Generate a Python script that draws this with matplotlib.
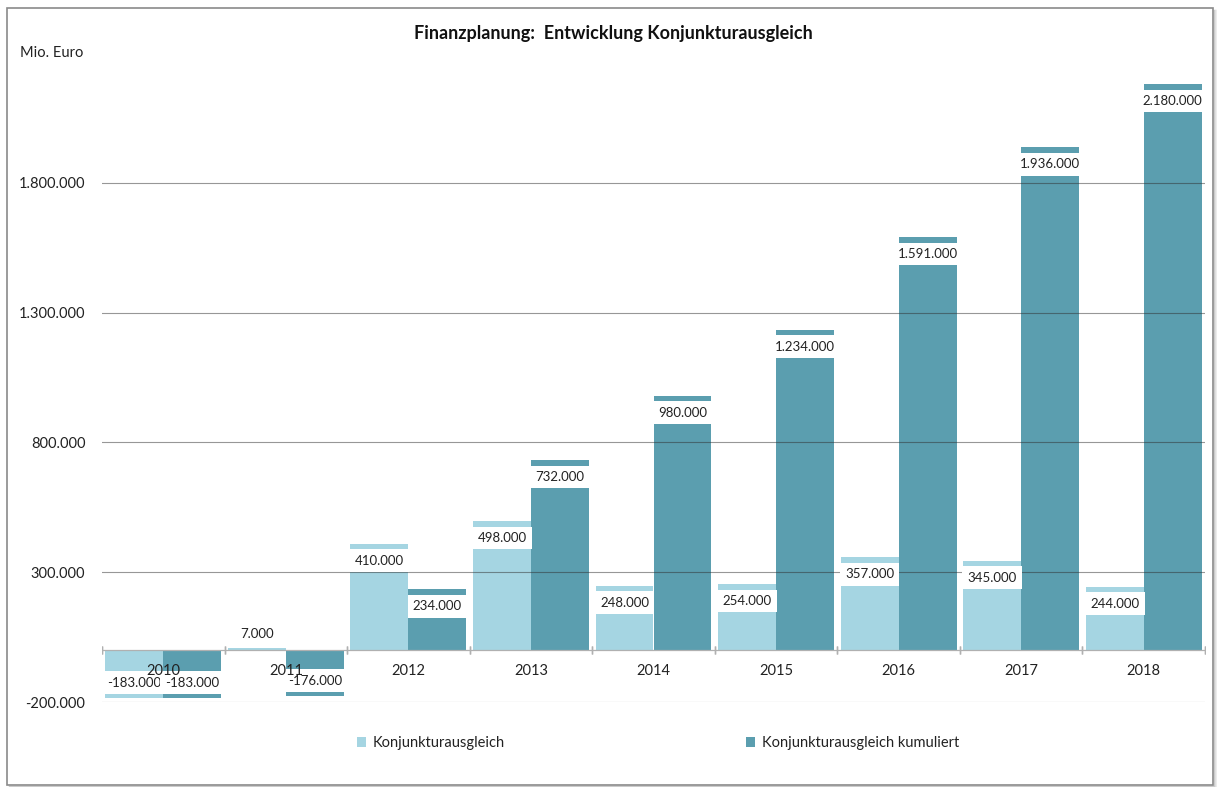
import matplotlib
matplotlib.use("Agg")
import matplotlib.pyplot as plt
from matplotlib.patches import Rectangle
from matplotlib.lines import Line2D
import numpy as np

plt.rcParams['font.family'] = ['Lato', 'DejaVu Sans']

years = ['2010', '2011', '2012', '2013', '2014', '2015', '2016', '2017', '2018']
ausgleich = [-183000, 7000, 410000, 498000, 248000, 254000, 357000, 345000, 244000]
kumuliert = [-183000, -176000, 234000, 732000, 980000, 1234000, 1591000, 1936000, 2180000]
series_names = ['Konjunkturausgleich', 'Konjunkturausgleich kumuliert']
yticks = [-200000, 300000, 800000, 1300000, 1800000]

c_light = '#A5D5E2'
c_dark = '#5B9EAF'

W, H = 1217, 787
fig = plt.figure(figsize=(W / 100, H / 100), dpi=100)
ax = fig.add_axes([102 / W, (H - 702) / H, 1103 / W, 649 / H])

def fmt(v):
    s = f"{abs(v):,}".replace(',', '.')
    return ('-' if v < 0 else '') + s

x = np.arange(len(years))
bw = 0.473
b1 = ax.bar(x - bw / 2, ausgleich, bw, color=c_light, zorder=2, linewidth=0)
b2 = ax.bar(x + bw / 2, kumuliert, bw, color=c_dark, zorder=2, linewidth=0)

ax.set_xlim(-0.5, len(years) - 0.5)
ax.set_ylim(-200000, 2300000)
ax.set_yticks(yticks)
ax.set_yticklabels([fmt(v) for v in yticks], fontsize=10.5, color='#222222')
ax.tick_params(axis='y', length=0, pad=12)
ax.set_xticks([])
for sp in ax.spines.values():
    sp.set_visible(False)
for v in yticks:
    ax.axhline(v, color='#303030', alpha=0.5, lw=0.8, zorder=3)
ax.axhline(0, color='#b0b0b0', lw=0.9, zorder=3)
for b in np.arange(len(years) + 1) - 0.5:
    ax.plot([b, b], [0, 0], marker='|', markersize=6, color='#b0b0b0', zorder=3)

for xi, y in zip(x, years):
    ax.annotate(y, (xi, 0), xytext=(0, -21), textcoords='offset pixels',
                ha='center', va='center', fontsize=10.5, color='#222222', zorder=6)

def label(xc, v):
    if abs(v) < 30000:
        ax.annotate(fmt(v), (xc, v), xytext=(0, 14), textcoords='offset pixels',
                    ha='center', va='center', fontsize=9.5, color='#222222', zorder=5)
        return
    off = -17 if v > 0 else 15
    ax.annotate(fmt(v), (xc, v), xytext=(0, off), textcoords='offset pixels',
                ha='center', va='center', fontsize=9.5, color='#222222', zorder=5,
                bbox=dict(boxstyle='square,pad=0.4', fc='white', ec='none'))

for xi, v in zip(x, ausgleich):
    label(xi - bw / 2, v)
for xi, v in zip(x, kumuliert):
    label(xi + bw / 2, v)

fig.text(613 / W, 1 - 34 / H, 'Finanzplanung:  Entwicklung Konjunkturausgleich',
         ha='center', va='center', fontsize=13, fontweight='bold', color='#111111')
fig.text(20 / W, 1 - 53 / H, 'Mio. Euro', ha='left', va='center', fontsize=10.5, color='#222222')

handles = [Rectangle((0, 0), 1, 1, fc=c_light, ec='none'),
           Rectangle((0, 0), 1, 1, fc=c_dark, ec='none')]
fig.legend(handles, series_names, loc='center', bbox_to_anchor=(658 / W, 1 - 743 / H),
           ncol=2, frameon=False, fontsize=10.5, handlelength=0.65, handleheight=0.65,
           handletextpad=0.45, columnspacing=16.5, labelcolor='#222222')

# outer frame with shadow
fig.patches.append(Rectangle((7 / W, 1 - 785 / H), 1206 / W, 777 / H, transform=fig.transFigure,
                             fill=False, ec='#8a8a8a', lw=1.2, zorder=10))
for i, c in enumerate(['#c8c8c8', '#dcdcdc', '#ececec']):
    fig.lines.append(Line2D([(1214 + i) / W, (1214 + i) / W], [1 - (786 + i) / H, 1 - 10 / H],
                            transform=fig.transFigure, color=c, lw=1))
    fig.lines.append(Line2D([9 / W, (1214 + i) / W], [1 - (786 + i) / H, 1 - (786 + i) / H],
                            transform=fig.transFigure, color=c, lw=1))

fig.savefig('out.png', dpi=100)
